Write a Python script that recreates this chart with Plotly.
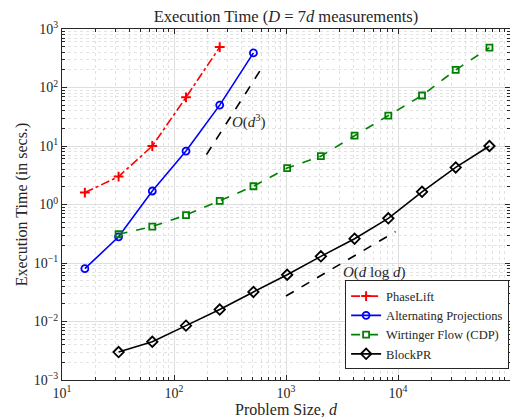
import numpy as np
import plotly.graph_objects as go

# ---- data ----
d_phaselift = [16, 32, 64, 128, 256]
t_phaselift = [1.6, 3.0, 10, 68, 490]

d_altproj = [16, 32, 64, 128, 256, 512]
t_altproj = [0.08, 0.28, 1.7, 8.2, 50, 390]

d_wf = [32, 64, 128, 256, 512, 1024, 2048, 4096, 8192, 16384, 32768, 65536]
t_wf = [0.31, 0.42, 0.66, 1.15, 2.05, 4.2, 6.7, 15, 33, 73, 200, 480]

d_blockpr = [32, 64, 128, 256, 512, 1024, 2048, 4096, 8192, 16384, 32768, 65536]
t_blockpr = [0.003, 0.0045, 0.0085, 0.016, 0.032, 0.063, 0.13, 0.26, 0.58, 1.65, 4.3, 10]

# tick exponents
x_exps = [1, 2, 3, 4, 5]
y_exps = [-3, -2, -1, 0, 1, 2, 3]

# reference trend lines (endpoints in d and scale constants)
d_cubic = [195, 600]
c_cubic = 9.6e-7
d_dlogd = [1000, 9500]
c_dlogd = 3.95e-6

FONT = "Liberation Serif"
INK = "#262626"


def exp_label(e):
    return "10<sup>" + ("\u2212" if e < 0 else "") + str(abs(e)) + "</sup>"


def minor_vals(exps):
    return [m * 10.0 ** e for e in exps[:-1] for m in range(2, 10)]


fig = go.Figure()

fig.add_trace(go.Scatter(
    x=d_phaselift, y=t_phaselift, name="PhaseLift", mode="lines+markers",
    line=dict(color="red", width=1.6, dash="dashdot"),
    marker=dict(symbol="cross-thin", size=7, line=dict(color="red", width=2), color="red")))
fig.add_trace(go.Scatter(
    x=d_altproj, y=t_altproj, name="Alternating Projections", mode="lines+markers",
    line=dict(color="blue", width=1.6),
    marker=dict(symbol="circle-open", size=7, line=dict(color="blue", width=1.8), color="blue")))
fig.add_trace(go.Scatter(
    x=d_wf, y=t_wf, name="Wirtinger Flow (CDP)", mode="lines+markers",
    line=dict(color="#008000", width=1.6, dash="dash"),
    marker=dict(symbol="square-open", size=6, line=dict(color="#008000", width=1.8), color="#008000")))
fig.add_trace(go.Scatter(
    x=d_blockpr, y=t_blockpr, name="BlockPR", mode="lines+markers",
    line=dict(color="black", width=1.6),
    marker=dict(symbol="diamond-open", size=8, line=dict(color="black", width=1.8), color="black")))

dc = np.array(d_cubic, dtype=float)
fig.add_trace(go.Scatter(
    x=dc, y=c_cubic * dc**3, mode="lines", showlegend=False,
    line=dict(color="black", width=1.6, dash="dash")))
dl = np.array(d_dlogd, dtype=float)
fig.add_trace(go.Scatter(
    x=dl, y=c_dlogd * dl * np.log(dl), mode="lines", showlegend=False,
    line=dict(color="black", width=1.6, dash="dash")))

fig.add_annotation(x=np.log10(470), y=np.log10(26), xref="x", yref="y",
                   text="<i>O</i>(<i>d</i><sup>3</sup>)", showarrow=False,
                   font=dict(family=FONT, size=15, color=INK))
fig.add_annotation(x=np.log10(6200), y=np.log10(0.07), xref="x", yref="y",
                   text="<i>O</i>(<i>d</i> log <i>d</i>)", showarrow=False,
                   font=dict(family=FONT, size=15, color=INK))

axis_common = dict(
    type="log", tickmode="array", automargin=False,
    showline=True, linecolor=INK, linewidth=1, mirror="ticks",
    ticks="inside", ticklen=5, tickcolor=INK,
    showgrid=True, gridcolor="#dedede", gridwidth=1,
    zeroline=False,
    tickfont=dict(family=FONT, size=14, color=INK),
)

fig.update_xaxes(range=[1, 5],
                 tickvals=[10.0 ** e for e in x_exps],
                 ticktext=[exp_label(e) for e in x_exps],
                 minor=dict(tickmode="array", tickvals=minor_vals(x_exps),
                            ticks="inside", ticklen=3, tickcolor=INK,
                            showgrid=True, gridcolor="#e3e3e3", griddash="dot"),
                 title=dict(text="Problem Size, <i>d</i>", standoff=0,
                            font=dict(family=FONT, size=16, color=INK)),
                 **axis_common)
fig.update_yaxes(range=[-3, 3],
                 tickvals=[10.0 ** e for e in y_exps],
                 ticktext=[exp_label(e) for e in y_exps],
                 minor=dict(tickmode="array", tickvals=minor_vals(y_exps),
                            ticks="inside", ticklen=3, tickcolor=INK,
                            showgrid=True, gridcolor="#e3e3e3", griddash="dot"),
                 title=dict(text="Execution Time (in secs.)", standoff=2,
                            font=dict(family=FONT, size=16, color=INK)),
                 **axis_common)

# the page body adds an 8px offset; the figure is sized/margined to compensate
fig.update_layout(
    width=510, height=410,
    margin=dict(l=54, r=8, t=21, b=38),
    paper_bgcolor="white", plot_bgcolor="white",
    title=dict(text="Execution Time (<i>D</i> = 7<i>d</i> measurements)",
               x=0.545, xanchor="center", y=0.979, yanchor="middle",
               font=dict(family=FONT, size=16.5, color=INK)),
    legend=dict(x=0.998, y=0.03, xanchor="right", yanchor="bottom",
                bordercolor=INK, borderwidth=1, bgcolor="white",
                font=dict(family=FONT, size=12.5, color=INK),
                tracegroupgap=0, itemwidth=30),
    showlegend=True,
)

fig.write_html("out.html")
